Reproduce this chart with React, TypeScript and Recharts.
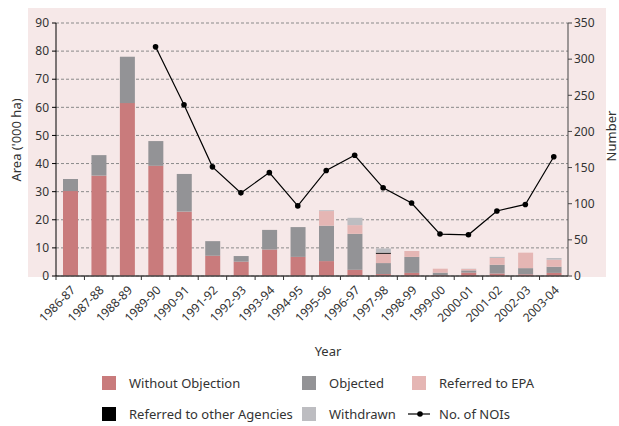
import React from "react";
import {
  ComposedChart,
  Bar,
  Line,
  XAxis,
  YAxis,
  CartesianGrid,
} from "recharts";

const years = [
  "1986-87", "1987-88", "1988-89", "1989-90", "1990-91", "1991-92",
  "1992-93", "1993-94", "1994-95", "1995-96", "1996-97", "1997-98",
  "1998-99", "1999-00", "2000-01", "2001-02", "2002-03", "2003-04",
];
const withoutObjection = [30.2, 35.7, 61.5, 39.2, 22.9, 7.2, 5.1, 9.4, 6.8, 5.3, 2.2, 0.7, 1.1, 0.3, 1.2, 0.9, 0.6, 1.1];
const objected = [4.3, 7.3, 16.5, 8.8, 13.4, 5.2, 2.0, 7.0, 10.6, 12.6, 12.8, 3.9, 5.7, 0.9, 0.8, 3.1, 2.2, 2.2];
const referredEPA = [0, 0, 0, 0, 0, 0, 0, 0, 0, 5.2, 3.1, 3.3, 2.1, 1.4, 0.5, 2.4, 5.5, 2.5];
const otherAgencies = [0, 0, 0, 0, 0, 0, 0, 0, 0, 0, 0, 0.4, 0, 0, 0, 0, 0, 0];
const withdrawn = [0, 0, 0, 0, 0, 0, 0, 0, 0, 0.3, 2.6, 1.5, 0, 0, 0.1, 0.4, 0, 0.6];
const nois = [null, null, null, 317, 237, 151, 115, 143, 97, 146, 167, 122, 101, 58, 57, 90, 99, 165];

const areaTicks = [0, 10, 20, 30, 40, 50, 60, 70, 80, 90];
const numberTicks = [0, 50, 100, 150, 200, 250, 300, 350];

const data = years.map((year, i) => ({
  year,
  wo: withoutObjection[i],
  obj: objected[i],
  epa: referredEPA[i],
  other: otherAgencies[i],
  wd: withdrawn[i],
  nois: nois[i],
}));

const C_WO = "#c97b7c";
const C_OBJ = "#939396";
const C_EPA = "#e5b6b4";
const C_OTHER = "#000000";
const C_WD = "#bdbdc1";

const LEFT = 56;
const RIGHT = 568;
const TOP = 23;
const BOTTOM = 276;
const BAND = (RIGHT - LEFT) / years.length;

const YearTick = (props: any) => {
  const { x, payload } = props;
  const tx = x + 6;
  const ty = BOTTOM + 15;
  return (
    <g>
      <line x1={x - BAND / 2} x2={x - BAND / 2} y1={BOTTOM} y2={BOTTOM + 4} stroke="#333" />
      <text
        x={tx}
        y={ty}
        transform={`rotate(-45 ${tx} ${ty})`}
        textAnchor="end"
        fontSize={12}
        fill="#333"
      >
        {payload.value}
      </text>
    </g>
  );
};

const Swatch = ({ left, top, color, label }: any) => (
  <>
    <div style={{ position: "absolute", left, top, width: 14, height: 14, background: color }} />
    <div style={{ position: "absolute", left: left + 27, top: top - 2, fontSize: 13, color: "#333", whiteSpace: "nowrap", lineHeight: "18px" }}>
      {label}
    </div>
  </>
);

export default function App() {
  return (
    <div
      style={{
        position: "absolute",
        left: 0,
        top: 0,
        width: 619,
        height: 426,
        overflow: "hidden",
        fontFamily: "'Noto Sans', sans-serif",
        background: "#fff",
      }}
    >
      <div style={{ position: "absolute", left: 28, top: 8, width: 578, height: 269, background: "#f6e8e8" }} />
      <div style={{ position: "absolute", left: 0, top: 0 }}>
        <ComposedChart
          width={619}
          height={426}
          data={data}
          margin={{ top: TOP, right: 619 - RIGHT - 40, left: LEFT - 40, bottom: 100 }}
        >
          <CartesianGrid yAxisId="left" vertical={false} stroke="#8a8a8a" strokeDasharray="3 2" />
          <XAxis
            dataKey="year"
            height={50}
            interval={0}
            tick={<YearTick />}
            tickLine={false}
            axisLine={{ stroke: "#444", strokeWidth: 1.5 }}
          />
          <YAxis
            yAxisId="left"
            width={40}
            domain={[0, 90]}
            ticks={areaTicks}
            tickSize={4}
            tickMargin={3}
            axisLine={{ stroke: "#000" }}
            tickLine={{ stroke: "#000" }}
            tick={{ fontSize: 12, fill: "#333" }}
          />
          <YAxis
            yAxisId="right"
            orientation="right"
            width={40}
            domain={[0, 350]}
            ticks={numberTicks}
            tickSize={4}
            tickMargin={2}
            axisLine={{ stroke: "#444" }}
            tickLine={{ stroke: "#444" }}
            tick={{ fontSize: 12, fill: "#333" }}
          />
          <Bar yAxisId="left" dataKey="wo" stackId="a" fill={C_WO} barSize={15} isAnimationActive={false} />
          <Bar yAxisId="left" dataKey="obj" stackId="a" fill={C_OBJ} barSize={15} isAnimationActive={false} />
          <Bar yAxisId="left" dataKey="epa" stackId="a" fill={C_EPA} barSize={15} isAnimationActive={false} />
          <Bar yAxisId="left" dataKey="other" stackId="a" fill={C_OTHER} barSize={15} isAnimationActive={false} />
          <Bar yAxisId="left" dataKey="wd" stackId="a" fill={C_WD} barSize={15} isAnimationActive={false} />
          <Line
            yAxisId="right"
            dataKey="nois"
            stroke="#000"
            strokeWidth={1.2}
            dot={{ r: 2.8, fill: "#000", stroke: "#000", strokeWidth: 0 }}
            activeDot={false}
            isAnimationActive={false}
          />
        </ComposedChart>
      </div>
      <div
        style={{
          position: "absolute",
          left: 16,
          top: 140,
          transform: "translate(-50%, -50%) rotate(-90deg)",
          fontSize: 13,
          color: "#333",
          whiteSpace: "nowrap",
        }}
      >
        Area ('000 ha)
      </div>
      <div
        style={{
          position: "absolute",
          left: 611,
          top: 136,
          transform: "translate(-50%, -50%) rotate(-90deg)",
          fontSize: 13,
          lineHeight: "14px",
          color: "#333",
          whiteSpace: "nowrap",
        }}
      >
        Number
      </div>
      <div style={{ position: "absolute", left: 328, top: 342, transform: "translateX(-50%)", fontSize: 13, color: "#333" }}>
        Year
      </div>
      <Swatch left={102} top={376} color={C_WO} label="Without Objection" />
      <Swatch left={302} top={376} color={C_OBJ} label="Objected" />
      <Swatch left={412} top={376} color={C_EPA} label="Referred to EPA" />
      <Swatch left={102} top={407} color={C_OTHER} label="Referred to other Agencies" />
      <Swatch left={302} top={407} color={C_WD} label="Withdrawn" />
      <svg style={{ position: "absolute", left: 406, top: 407 }} width={26} height={14}>
        <line x1={2} x2={24} y1={7} y2={7} stroke="#000" strokeWidth={1.2} />
        <circle cx={14} cy={7} r={2.8} fill="#000" />
      </svg>
      <div style={{ position: "absolute", left: 439, top: 405, fontSize: 13, color: "#333", whiteSpace: "nowrap", lineHeight: "18px" }}>
        No. of NOIs
      </div>
    </div>
  );
}
